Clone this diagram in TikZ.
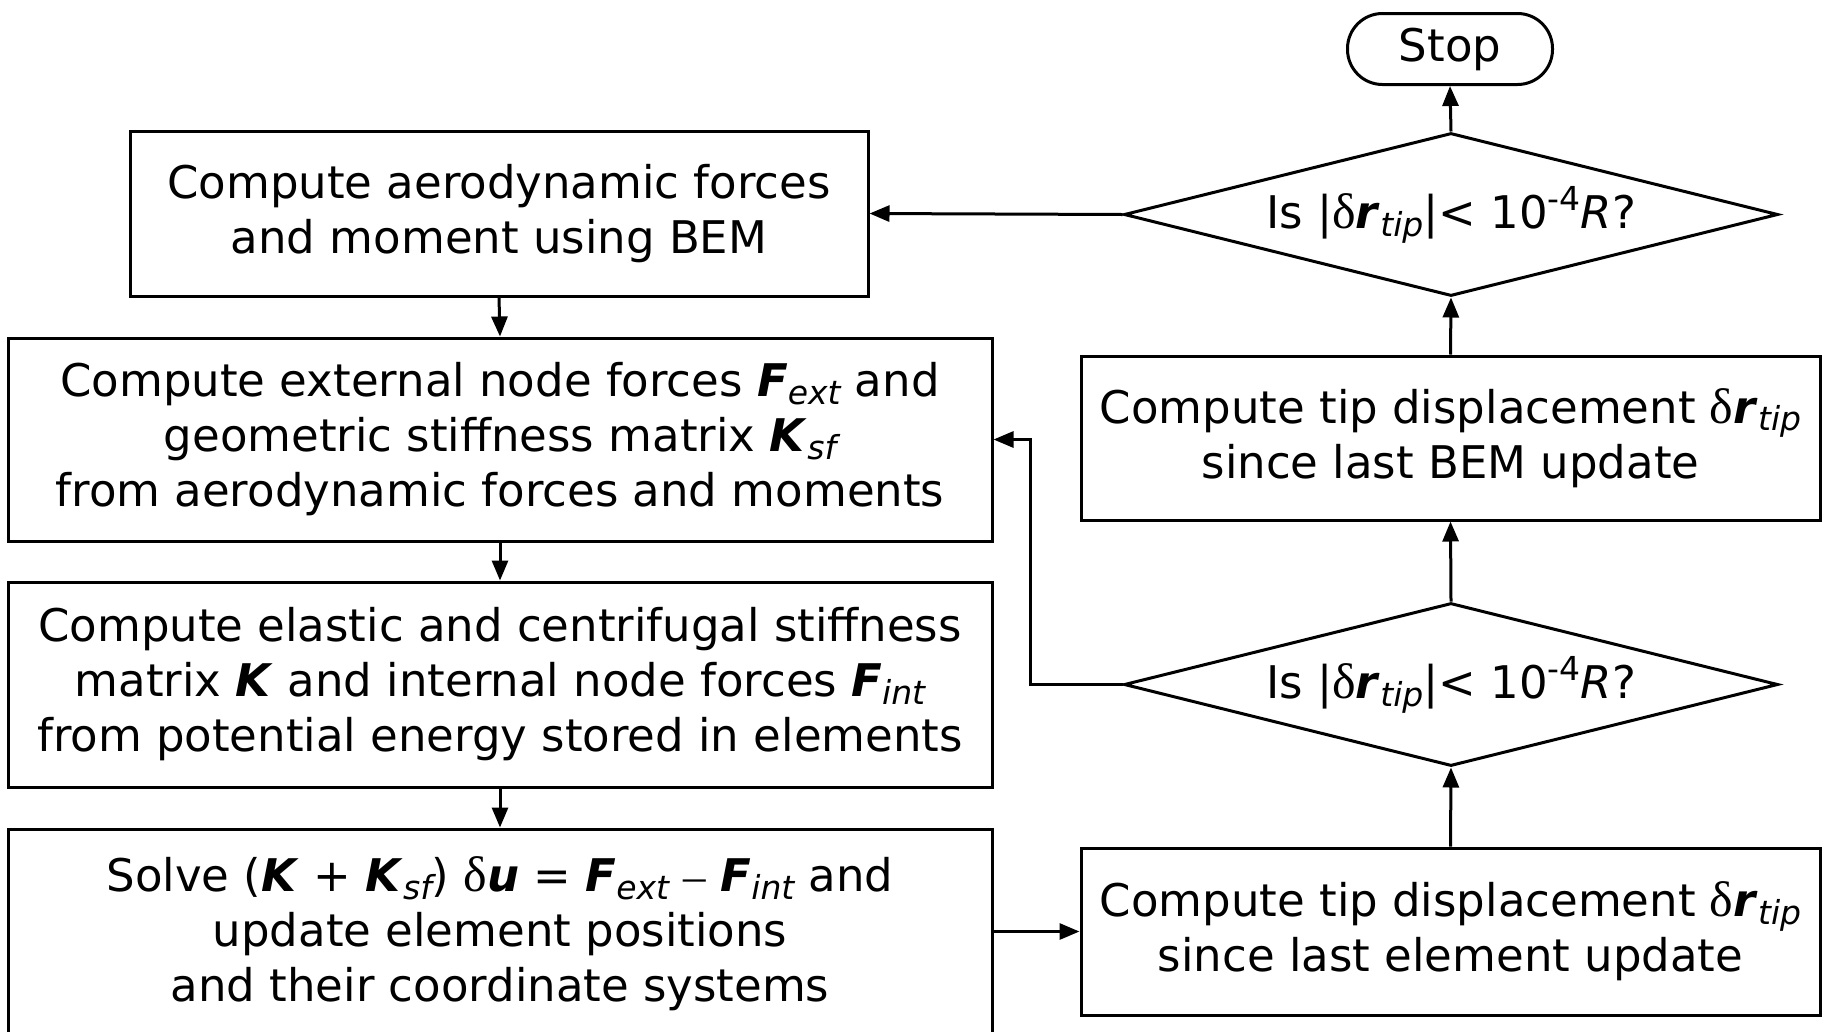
\documentclass[tikz,border=0pt]{standalone}
\usepackage{fontspec}
\setmainfont{DejaVu Sans}
\newfontfamily\symf{Liberation Serif}
\usetikzlibrary{shapes.geometric,arrows.meta}
\newcommand{\bi}[1]{\textbf{\textit{#1}}}
\newcommand{\sbi}[1]{\raisebox{-0.3ex}{\fontsize{33}{33}\selectfont\itshape #1}}
\newcommand{\spr}[1]{\raisebox{0.75ex}{\fontsize{33}{33}\selectfont #1}}
\newcommand{\dlt}{{\symf\fontsize{50}{55}\selectfont δ}}
\begin{document}
\begin{tikzpicture}[x=1pt,y=-1pt,
  every node/.style={font=\fontsize{45}{55}\selectfont},
  box/.style={draw, line width=3pt, rectangle, align=center, inner sep=0pt},
  dec/.style={draw, line width=3pt, diamond, aspect=4, inner sep=0pt, minimum width=654pt, minimum height=163pt},
  arr/.style={-{Triangle[length=20pt,width=16pt]}, line width=3pt}]
\useasboundingbox (0,0) rectangle (1825,1031);

\node[draw, line width=3pt, rounded corners=35pt, minimum width=205pt, minimum height=71pt, inner sep=0pt] (stop) at (1450,49) {Stop};
\node[dec] (d1) at (1451,214.5) {Is |\dlt\bi{r}\sbi{tip}|< 10\spr{-4}\textit{R}?};
\node[box, minimum width=738pt, minimum height=165pt] (aero) at (499,213.5) {Compute aerodynamic forces\\and moment using BEM};
\node[box, minimum width=984pt, minimum height=203pt] (ext) at (500,439.5) {Compute external node forces \bi{F}\sbi{ext} and\\geometric stiffness matrix \bi{K}\sbi{sf}\\from aerodynamic forces and moments};
\node[box, minimum width=984pt, minimum height=205pt] (ela) at (500,684.5) {Compute elastic and centrifugal stiffness\\matrix \bi{K} and internal node forces \bi{F}\sbi{int}\\from potential energy stored in elements};
\node[box, minimum width=984pt, minimum height=210pt] (sol) at (500,934) {Solve (\bi{K} + \bi{K}\sbi{sf}) \dlt\bi{u} = \bi{F}\sbi{ext} {\symf –} \bi{F}\sbi{int} and\\update element positions\\and their coordinate systems};
\node[box, minimum width=739pt, minimum height=164pt] (bem) at (1450.5,438) {Compute tip displacement \dlt\bi{r}\sbi{tip}\\since last BEM update};
\node[dec] (d2) at (1451,684.5) {Is |\dlt\bi{r}\sbi{tip}|< 10\spr{-4}\textit{R}?};
\node[box, minimum width=739pt, minimum height=167pt] (elm) at (1450.5,931.5) {Compute tip displacement \dlt\bi{r}\sbi{tip}\\since last element update};

\draw[arr] (d1.north) -- (stop.south);
\draw[arr] (d1.west) -- (aero.east);
\draw[arr] (aero.south) -- (ext.north);
\draw[arr] (ext.south) -- (ela.north);
\draw[arr] (ela.south) -- (sol.north);
\draw[arr] (sol.east |- elm.west) -- (elm.west);
\draw[arr] (elm.north) -- (d2.south);
\draw[arr] (d2.north) -- (bem.south);
\draw[arr] (bem.north) -- (d1.south);
\coordinate (turn) at (1030,684.5);
\draw[arr] (d2.west) -- (turn) |- (ext.east);
\end{tikzpicture}
\end{document}
